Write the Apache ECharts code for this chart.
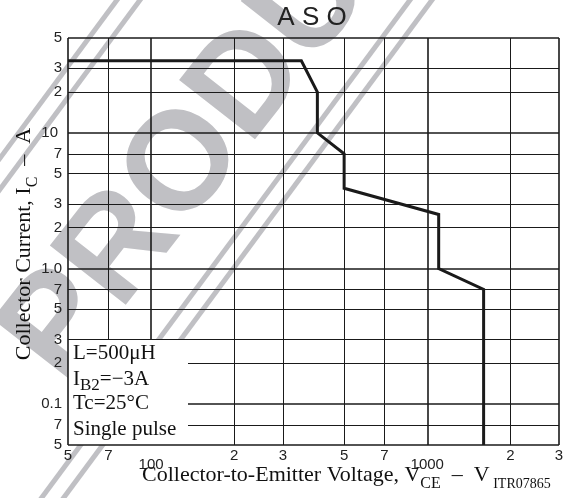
<!DOCTYPE html>
<html><head><meta charset="utf-8">
<script src="https://cdn.jsdelivr.net/npm/echarts@6/dist/echarts.min.js"></script>
<style>html,body{margin:0;padding:0;background:#fff}#c{width:579px;height:498px}</style>
</head><body><div id="c"></div>
<script>
// ---- data ----
const xTicks = [50, 70, 100, 200, 300, 500, 700, 1000, 2000, 3000];
const xTickLabels = ['5', '7', '100', '2', '3', '5', '7', '1000', '2', '3'];
const yTicks = [50, 30, 20, 10, 7, 5, 3, 2, 1, 0.7, 0.5, 0.3, 0.2, 0.1, 0.07, 0.05];
const yTickLabels = ['5', '3', '2', '10', '7', '5', '3', '2', '1.0', '7', '5', '3', '2', '0.1', '7', '5'];
const vce = [50, 350, 400, 400, 500, 500, 1100, 1100, 1600, 1600];
const ic = [34, 34, 20, 10, 7, 3.9, 2.5, 1.0, 0.7, 0.05];
const boxX = [50, 136];
const boxY = [0.05, 0.3];
const noteLines = ['L=500μH', '{n|I}{s|B2}{n|=−3A}', 'Tc=25°C', 'Single pulse'];
const titleText = 'A S O';
const watermark = 'PRODUCT';

// ---- styles ----
const INK = '#1a1a1a';
const GREY = '#c0c0c4';
const SANS = 'Liberation Sans';
const SERIF = 'Liberation Serif';

function isDecade(v) { const l = Math.log10(v); return Math.abs(l - Math.round(l)) < 1e-9; }
const xMin = xTicks[0], xMax = xTicks[xTicks.length - 1];
const yMax = yTicks[0], yMin = yTicks[yTicks.length - 1];

function isFrameX(v) { return v === xMin || v === xMax; }
function isFrameY(v) { return v === yMin || v === yMax || v === boxY[1]; }

function xItem(v, i) {
  const dec = isDecade(v);
  return {
    xAxis: v,
    lineStyle: { width: (dec || isFrameX(v)) ? 1.6 : 1 },
    label: { formatter: xTickLabels[i], distance: dec ? 12 : 3 }
  };
}
function yItem(v, i) {
  const dec = isDecade(v);
  return {
    yAxis: v,
    lineStyle: { width: (dec || v === yMin || v === yMax) ? 1.6 : 1 },
    label: { formatter: yTickLabels[i], distance: v === 10 ? 10 : 6 }
  };
}
const markLineBase = {
  silent: true, symbol: 'none', animation: false,
  lineStyle: { color: INK, type: 'solid', width: 1 },
  label: { show: true, position: 'start', color: '#222', fontSize: 15, fontFamily: SANS }
};
const innerData = [], frameData = [];
xTicks.forEach((v, i) => (isFrameX(v) ? frameData : innerData).push(xItem(v, i)));
yTicks.forEach((v, i) => (isFrameY(v) ? frameData : innerData).push(yItem(v, i)));

const chart = echarts.init(document.getElementById('c'), null, { renderer: 'canvas' });

// watermark decoration
const wmLines = [117, 140, 410, 432].map(x0 => ({
  type: 'line', z: 0, silent: true,
  shape: { x1: x0 + 0.74 * 10, y1: -10, x2: x0 - 0.74 * 520, y2: 520 },
  style: { stroke: GREY, lineWidth: 5 }
}));

const option = {
  animation: false,
  backgroundColor: '#fff',
  grid: { left: 68, right: 20, top: 38, bottom: 53, containLabel: false },
  xAxis: {
    type: 'log', logBase: 10, min: xMin, max: xMax,
    axisLine: { show: false }, axisTick: { show: false }, axisLabel: { show: false }, splitLine: { show: false }
  },
  yAxis: {
    type: 'log', logBase: 10, min: yMin, max: yMax,
    axisLine: { show: false }, axisTick: { show: false }, axisLabel: { show: false }, splitLine: { show: false }
  },
  graphic: [
    ...wmLines,
    {
      type: 'text', z: 0, silent: true, x: 32, y: 362, rotation: 52 * Math.PI / 180,
      style: { text: watermark, fill: GREY, font: 'bold 140px "Liberation Sans"', textAlign: 'left', textVerticalAlign: 'middle' }
    },
    {
      type: 'text', z: 20, x: 312, y: 18,
      style: { text: titleText, fill: '#222', font: '26px "Liberation Sans"', textAlign: 'center', textVerticalAlign: 'middle' }
    },
    {
      type: 'text', z: 20, x: 142, y: 464.5,
      style: {
        text: '{n|Collector-to-Emitter Voltage, V}{s|CE}{n|  –  V}{c| ITR07865}',
        textAlign: 'left', textVerticalAlign: 'top', fill: '#111',
        rich: {
          n: { fontSize: 22, fontFamily: SERIF, color: '#111', verticalAlign: 'top' },
          s: { fontSize: 16, fontFamily: SERIF, color: '#111', verticalAlign: 'top', padding: [11, 0, 0, 0] },
          c: { fontSize: 14, fontFamily: SERIF, color: '#111', verticalAlign: 'top', padding: [13, 0, 0, 0] }
        }
      }
    },
    {
      type: 'text', z: 20, x: 13.5, y: 244, rotation: Math.PI / 2,
      style: {
        text: '{n|Collector Current, I}{s|C}{n|  –  A}',
        textAlign: 'center', textVerticalAlign: 'top', fill: '#111',
        rich: {
          n: { fontSize: 22, fontFamily: SERIF, color: '#111', verticalAlign: 'top' },
          s: { fontSize: 16, fontFamily: SERIF, color: '#111', verticalAlign: 'top', padding: [11, 0, 0, 0] }
        }
      }
    },
    ...noteLines.map((t, i) => ({
      type: 'text', z: 20, x: 73, y: [343.4, 369.4, 393.4, 419.4][i],
      style: {
        text: t.indexOf('{') === 0 ? t : '{n|' + t + '}',
        textAlign: 'left', textVerticalAlign: 'top', fill: '#111',
        rich: {
          n: { fontSize: 21, fontFamily: SERIF, color: '#111', verticalAlign: 'top' },
          s: { fontSize: 17, fontFamily: SERIF, color: '#111', verticalAlign: 'top', padding: [8, 0, 0, 0] }
        }
      }
    }))
  ],
  series: [
    {
      name: 'grid', type: 'line', data: [], z: 2, silent: true,
      markLine: Object.assign({}, markLineBase, { z: 2, data: innerData })
    },
    {
      name: 'box', type: 'custom', z: 3, silent: true,
      data: [[boxX[0], boxY[0], boxX[1], boxY[1]]],
      encode: { x: [0, 2], y: [1, 3] },
      renderItem: function (params, api) {
        const p0 = api.coord([api.value(0), api.value(1)]);
        const p1 = api.coord([api.value(2), api.value(3)]);
        return {
          type: 'rect',
          shape: { x: p0[0], y: p1[1], width: p1[0] - p0[0], height: p0[1] - p1[1] },
          style: { fill: '#ffffff' }
        };
      }
    },
    {
      name: 'frame', type: 'line', data: [], z: 4, silent: true,
      markLine: Object.assign({}, markLineBase, { z: 4, data: frameData })
    },
    {
      name: 'ASO', type: 'line', z: 6, silent: true,
      data: vce.map((v, i) => [v, ic[i]]),
      showSymbol: false, symbol: 'none',
      lineStyle: { color: INK, width: 3, join: 'miter' }
    }
  ]
};
chart.setOption(option);
</script>
</body></html>
